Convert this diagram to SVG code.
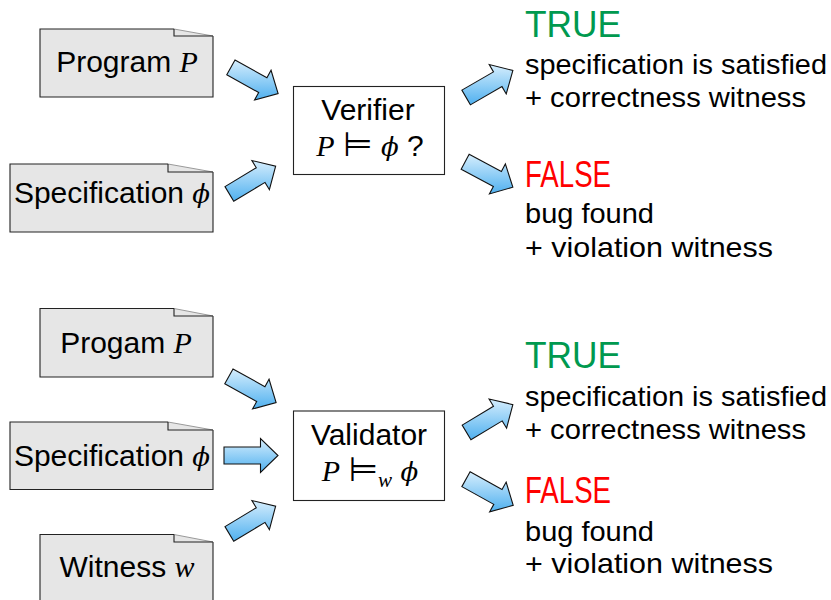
<svg xmlns="http://www.w3.org/2000/svg" width="831" height="600" viewBox="0 0 831 600">
<defs>
<linearGradient id="blue" x1="0" y1="0" x2="0" y2="1">
<stop offset="0" stop-color="#d6eefd"/>
<stop offset="1" stop-color="#4fb0ef"/>
</linearGradient>
</defs>
<style>
.doc{fill:#e6e6e6;stroke:none}
.edge{fill:none;stroke:#222;stroke-width:1.1}
.diag{fill:none;stroke:#9a9a9a;stroke-width:1}
.box{fill:#fff;stroke:#222;stroke-width:1.1}
.arrow{fill:url(#blue);stroke:#111;stroke-width:1.1;stroke-linejoin:miter}
.t{font-family:"Liberation Sans",Arial,sans-serif;font-size:30px;fill:#000}
.r{font-family:"Liberation Sans",Arial,sans-serif;font-size:28.5px;fill:#000}
.big{font-family:"Liberation Sans",Arial,sans-serif;font-size:36px}
.m{font-family:"Liberation Serif","DejaVu Serif",serif;font-style:italic}
.phi{font-family:"DejaVu Serif",serif;font-style:italic;font-size:26px}
.rel{font-family:"DejaVu Sans",sans-serif;font-style:normal;font-size:34px}
.green{fill:#00994f}
.red{fill:#ff0000}
</style>

<g id="doc-program">
<path class="doc" d="M40,29 H174 L213,36 V97 H40 Z"/>
<path class="edge" d="M174,29 H40 V97 H213 V36"/>
<path class="diag" d="M174,29 L213,36"/>
<path class="edge" d="M174,29 V36 H213"/>
<text class="t" x="127" y="72" text-anchor="middle">Program <tspan class="m">P</tspan></text>
</g>

<g id="doc-spec1">
<path class="doc" d="M10,164 H168 L213,172 V232 H10 Z"/>
<path class="edge" d="M168,164 H10 V232 H213 V172"/>
<path class="diag" d="M168,164 L213,172"/>
<path class="edge" d="M168,164 V172 H213"/>
<text class="t" x="112" y="203" text-anchor="middle">Specification <tspan class="phi">ϕ</tspan></text>
</g>

<g id="verifier">
<rect class="box" x="293.5" y="86.5" width="151" height="88"/>
<text class="t" x="368" y="120" text-anchor="middle">Verifier</text>
<text class="t" x="370" y="156" text-anchor="middle"><tspan class="m">P</tspan> <tspan class="rel">⊨</tspan> <tspan class="phi">ϕ</tspan> ?</text>
</g>

<g id="result-true1">
<text class="big green" x="525" y="37" textLength="96" lengthAdjust="spacingAndGlyphs">TRUE</text>
<text class="r" x="525" y="74" textLength="302" lengthAdjust="spacingAndGlyphs">specification is satisfied</text>
<text class="r" x="525" y="107" textLength="281" lengthAdjust="spacingAndGlyphs">+ correctness witness</text>
</g>

<g id="result-false1">
<text class="big red" x="525" y="187" textLength="86" lengthAdjust="spacingAndGlyphs">FALSE</text>
<text class="r" x="525" y="223" textLength="129" lengthAdjust="spacingAndGlyphs">bug found</text>
<text class="r" x="525" y="257" textLength="248" lengthAdjust="spacingAndGlyphs">+ violation witness</text>
</g>

<g id="doc-program2">
<path class="doc" d="M40,308.5 H174 L213,316 V377 H40 Z"/>
<path class="edge" d="M174,308.5 H40 V377 H213 V316"/>
<path class="diag" d="M174,308.5 L213,316"/>
<path class="edge" d="M174,308.5 V316 H213"/>
<text class="t" x="126" y="353" text-anchor="middle">Progam <tspan class="m">P</tspan></text>
</g>

<g id="doc-spec2">
<path class="doc" d="M10,422 H168 L213,430 V489.5 H10 Z"/>
<path class="edge" d="M168,422 H10 V489.5 H213 V430"/>
<path class="diag" d="M168,422 L213,430"/>
<path class="edge" d="M168,422 V430 H213"/>
<text class="t" x="112" y="466" text-anchor="middle">Specification <tspan class="phi">ϕ</tspan></text>
</g>

<g id="doc-witness">
<path class="doc" d="M40,534.5 H174 L213,542 V610 H40 Z"/>
<path class="edge" d="M174,534.5 H40 V610 M213,610 V542"/>
<path class="diag" d="M174,534.5 L213,542"/>
<path class="edge" d="M174,534.5 V542 H213"/>
<text class="t" x="127" y="577" text-anchor="middle">Witness <tspan class="m">w</tspan></text>
</g>

<g id="validator">
<rect class="box" x="293.5" y="411" width="151" height="89.5"/>
<text class="t" x="369" y="445" text-anchor="middle">Validator</text>
<text class="t" x="370" y="481" text-anchor="middle"><tspan class="m">P</tspan> <tspan class="rel">⊨</tspan><tspan class="m" font-size="21" dy="6">w</tspan><tspan dy="-6"> </tspan><tspan class="phi">ϕ</tspan></text>
</g>

<g id="result-true2">
<text class="big green" x="525" y="368" textLength="96" lengthAdjust="spacingAndGlyphs">TRUE</text>
<text class="r" x="525" y="406" textLength="302" lengthAdjust="spacingAndGlyphs">specification is satisfied</text>
<text class="r" x="525" y="439" textLength="281" lengthAdjust="spacingAndGlyphs">+ correctness witness</text>
</g>

<g id="result-false2">
<text class="big red" x="525" y="503" textLength="86" lengthAdjust="spacingAndGlyphs">FALSE</text>
<text class="r" x="525" y="541" textLength="129" lengthAdjust="spacingAndGlyphs">bug found</text>
<text class="r" x="525" y="573" textLength="248" lengthAdjust="spacingAndGlyphs">+ violation witness</text>
</g>

<g id="connectors">
<polygon class="arrow" points="235.01,59.98 266.93,77.67 271.05,70.24 278.11,93.59 254.57,99.97 258.69,92.54 226.76,74.84"/>
<polygon class="arrow" points="224.98,186.62 256.27,167.82 251.89,160.54 275.64,166.10 269.40,189.68 265.02,182.39 233.73,201.19"/>
<polygon class="arrow" points="461.87,90.14 493.48,71.89 489.23,64.53 512.88,70.5 506.23,93.97 501.98,86.61 470.37,104.86"/>
<polygon class="arrow" points="469.15,154.32 501.38,171.46 505.37,163.95 512.84,187.18 489.41,193.97 493.40,186.47 461.17,169.33"/>
<polygon class="arrow" points="233.01,368.98 264.93,386.67 269.05,379.24 276.11,402.59 252.57,408.97 256.69,401.54 224.76,383.84"/>
<polygon class="arrow" points="224,447 260.5,447 260.5,438.5 278,455.5 260.5,472.5 260.5,464 224,464"/>
<polygon class="arrow" points="224.98,526.62 256.27,507.82 251.89,500.54 275.64,506.10 269.40,529.68 265.02,522.39 233.73,541.19"/>
<polygon class="arrow" points="462.18,425.12 493.47,406.32 489.09,399.04 512.84,404.60 506.60,428.18 502.22,420.89 470.93,439.69"/>
<polygon class="arrow" points="470.11,471.78 502.03,489.47 506.15,482.04 513.21,505.39 489.67,511.77 493.79,504.34 461.86,486.64"/>
</g>
</svg>
